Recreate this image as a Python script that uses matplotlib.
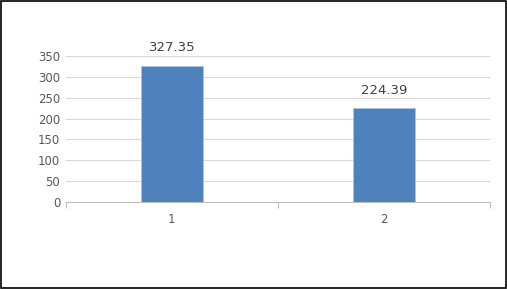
import matplotlib
matplotlib.use("Agg")
import matplotlib.pyplot as plt
from matplotlib.patches import Rectangle

categories = ["1", "2"]
values = [327.35, 224.39]
yticks = [0, 50, 100, 150, 200, 250, 300, 350]

fig = plt.figure(figsize=(5.07, 2.89), dpi=100)
fig.patches.append(Rectangle((0.001, 0.002), 0.997, 0.995, transform=fig.transFigure,
                             fill=False, edgecolor="black", linewidth=1.2))
ax = fig.add_axes([0.130, 0.301, 0.836, 0.505])

x = list(range(len(categories)))
bars = ax.bar(x, values, width=0.29, color="#4F81BD", edgecolor="#A9C4E6", linewidth=0.6, zorder=3)
for xi, v in zip(x, values):
    ax.annotate(f"{v:.2f}", (xi, v), xytext=(0, 8), textcoords="offset points",
                ha="center", va="bottom", fontsize=9.5, color="#404040")

ax.set_xlim(-0.5, len(categories) - 0.5)
ax.set_ylim(0, 350)
ax.set_yticks(yticks)
ax.set_yticklabels([str(t) for t in yticks])
ax.set_xticks(x)
ax.set_xticklabels(categories)
ax.set_xticks([-0.5, 0.5, 1.5], minor=True)

ax.grid(axis="y", color="#D9D9D9", linewidth=0.8, zorder=0)
ax.set_axisbelow(True)
for s in ["top", "right", "left"]:
    ax.spines[s].set_visible(False)
ax.spines["bottom"].set_color("#BFBFBF")
ax.spines["bottom"].set_linewidth(0.8)
ax.tick_params(axis="y", length=0, labelsize=8.5, labelcolor="#595959", pad=4)
ax.tick_params(axis="x", which="major", length=0, labelsize=8.5, labelcolor="#595959", pad=8)
ax.tick_params(axis="x", which="minor", length=4, color="#BFBFBF", width=0.8)

fig.savefig("out.png", dpi=100)
